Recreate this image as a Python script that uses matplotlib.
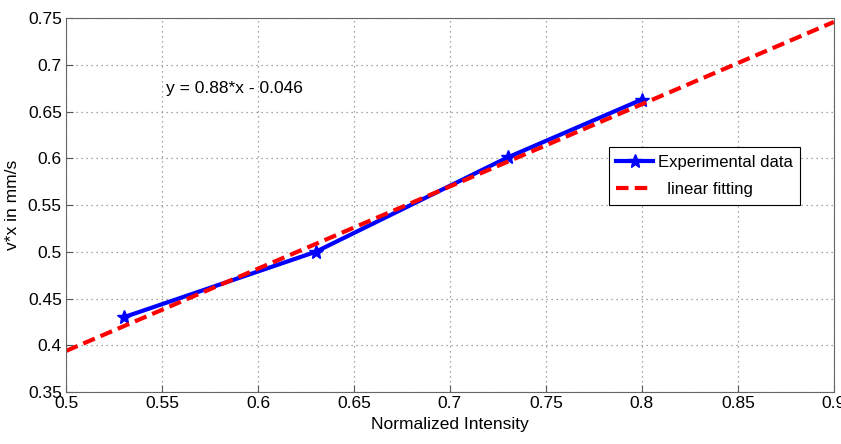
import numpy as np
import matplotlib.pyplot as plt

plt.rcParams['font.family'] = ['Liberation Sans', 'DejaVu Sans']

# measured points
intensity = [0.53, 0.63, 0.73, 0.80]
vx = [0.430, 0.500, 0.601, 0.663]

# linear fit shown on chart
slope = 0.88
intercept = -0.046
fit_x = [0.5, 0.9]

xticks = [0.5, 0.55, 0.6, 0.65, 0.7, 0.75, 0.8, 0.85, 0.9]
yticks = [0.35, 0.4, 0.45, 0.5, 0.55, 0.6, 0.65, 0.7, 0.75]

fig = plt.figure(figsize=(8.41, 4.44), dpi=100)
ax = fig.add_axes([0.0785, 0.117, 0.913, 0.842])

ax.plot(intensity, vx, color='blue', linewidth=3, marker='*', markersize=10,
        label='Experimental data')
fit_y = [slope * x + intercept for x in fit_x]
ax.plot(fit_x, fit_y, color='red', linestyle=(0, (3, 1.5)), linewidth=3,
        label='  linear fitting')

ax.set_xlim(0.5, 0.9)
ax.set_ylim(0.35, 0.75)
ax.set_xticks(xticks)
ax.set_yticks(yticks)
ax.set_xticklabels(['0.5', '0.55', '0.6', '0.65', '0.7', '0.75', '0.8', '0.85', '0.9'])
ax.set_yticklabels(['0.35', '0.4', '0.45', '0.5', '0.55', '0.6', '0.65', '0.7', '0.75'])
ax.tick_params(direction='in', labelsize=12.5, length=5, color='#555555', pad=3)
ax.grid(True, linestyle=(0, (1, 3)), color='#888888', linewidth=0.9)
for s in ax.spines.values():
    s.set_color('#666666')

ax.set_xlabel('Normalized Intensity', fontsize=12.5, labelpad=4)
ax.set_ylabel('v*x in mm/s', fontsize=12.5, labelpad=6)

ax.text(0.552, 0.675, 'y = 0.88*x - 0.046', fontsize=12.5, va='center')

leg = ax.legend(loc='upper left', bbox_to_anchor=(0.707, 0.655), fontsize=12,
                fancybox=False, framealpha=1, edgecolor='black',
                handlelength=2.2, handletextpad=0.3, borderpad=0.45,
                labelspacing=0.75, borderaxespad=0)
leg.get_frame().set_linewidth(0.8)

fig.savefig('out.png', dpi=100)
